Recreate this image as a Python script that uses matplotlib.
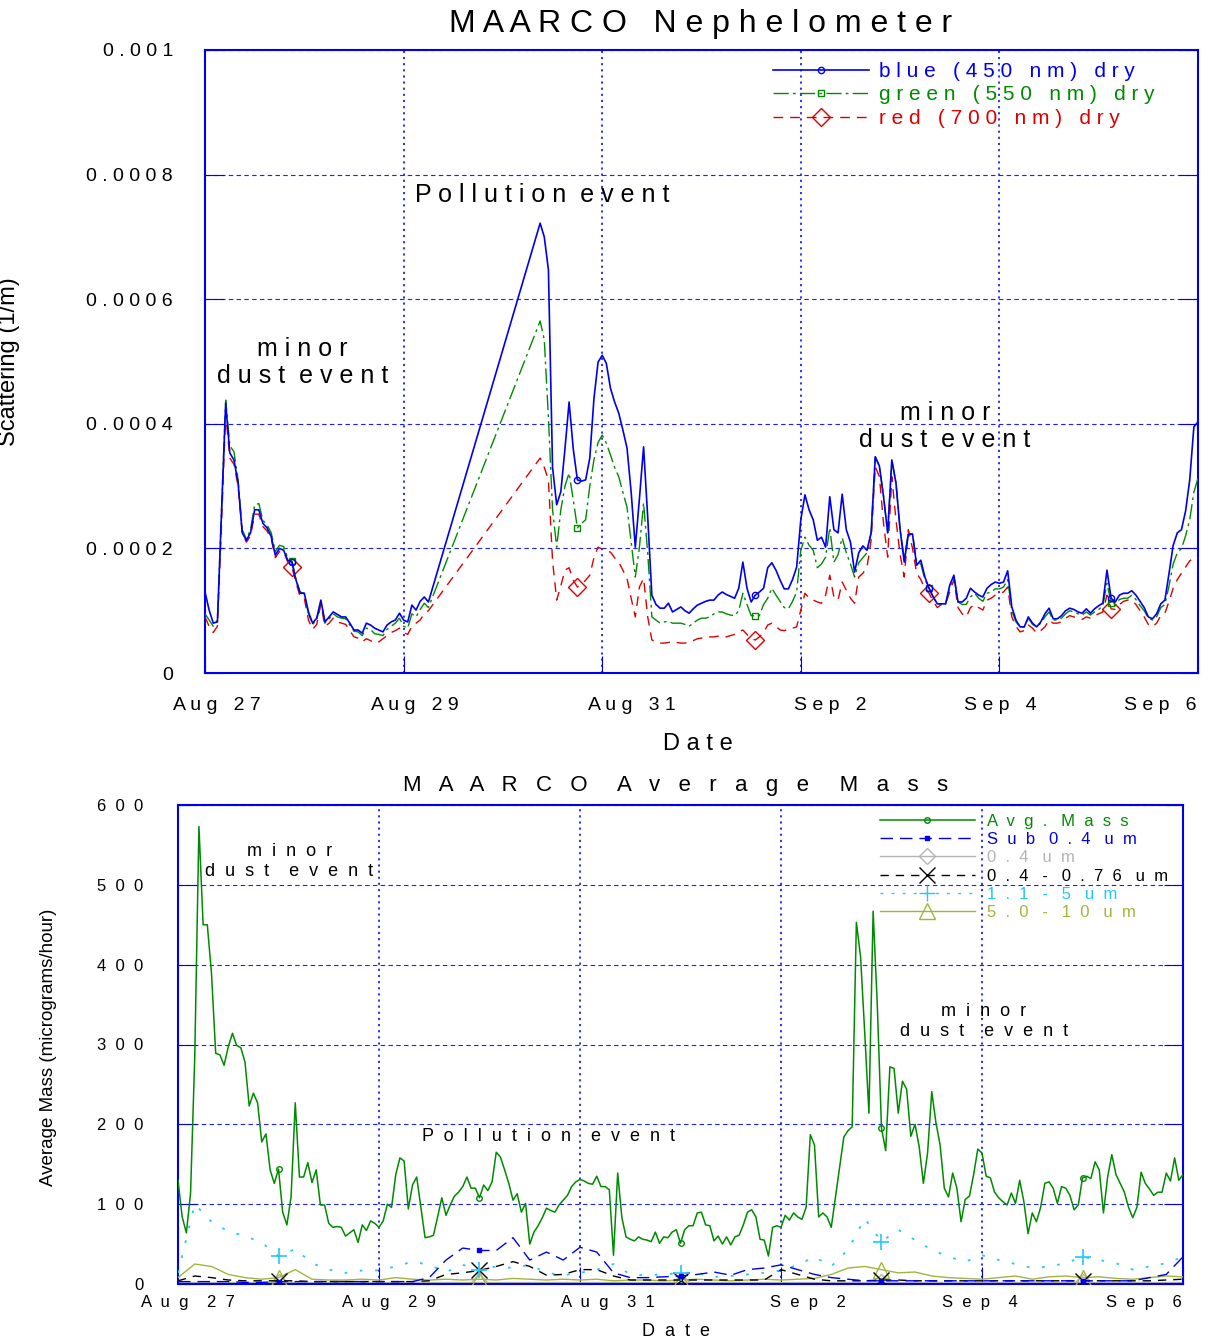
import numpy as np
import matplotlib
matplotlib.use('Agg')
import matplotlib.pyplot as plt
from matplotlib.lines import Line2D
from matplotlib.transforms import ScaledTranslation

plt.rcParams['font.family'] = ['Liberation Sans', 'DejaVu Sans']

# ---------------- nephelometer (hourly, hours since Aug 27 00:00) ----------------
neph_hours = list(range(0, 55)) + list(range(81, 241))

# scattering in units of 1e-4 1/m
blue_450 = [
    1.30, 1.01, 0.80, 0.82, 2.60, 4.33, 3.53, 3.42, 3.05, 2.25,
    2.13, 2.25, 2.62, 2.62, 2.40, 2.33, 2.19, 1.89, 2.00, 1.97,
    1.81, 1.78, 1.49, 1.28, 1.28, 0.98, 0.80, 0.88, 1.17, 0.82,
    0.90, 0.98, 0.94, 0.90, 0.90, 0.80, 0.69, 0.69, 0.64, 0.80,
    0.77, 0.72, 0.69, 0.66, 0.77, 0.82, 0.85, 0.96, 0.85, 0.82,
    1.09, 1.01, 1.15, 1.22, 1.14,
    7.22, 7.00, 6.47, 3.30, 2.70, 2.91, 3.60, 4.35, 3.60, 3.10,
    3.08, 3.10, 3.45, 4.40, 4.99, 5.10, 4.97, 4.57, 4.35, 4.17,
    3.90, 3.61, 2.90, 2.02, 2.80, 3.63, 2.50, 1.25, 1.10, 1.04,
    1.04, 1.12, 0.98, 1.02, 1.06, 1.00, 0.96, 1.03, 1.09, 1.12,
    1.15, 1.17, 1.17, 1.25, 1.30, 1.26, 1.23, 1.20, 1.36, 1.78,
    1.36, 1.14, 1.25, 1.30, 1.36, 1.69, 1.77, 1.65, 1.49, 1.35,
    1.35, 1.50, 1.70, 2.46, 2.86, 2.62, 2.46, 2.13, 2.18, 2.02,
    2.83, 2.30, 2.25, 2.87, 2.30, 2.10, 1.62, 1.93, 2.04, 1.97,
    2.25, 3.47, 3.32, 2.83, 2.25, 3.42, 3.05, 2.30, 1.78, 2.23,
    2.23, 1.73, 1.81, 1.54, 1.36, 1.22, 1.11, 1.11, 1.11, 1.41,
    1.57, 1.14, 1.14, 1.20, 1.36, 1.30, 1.25, 1.22, 1.36, 1.42,
    1.46, 1.44, 1.46, 1.64, 1.06, 0.85, 0.74, 0.74, 0.90, 0.80,
    0.74, 0.82, 0.95, 1.04, 0.87, 0.87, 0.92, 1.00, 1.04, 1.02,
    0.98, 0.96, 1.03, 0.96, 1.03, 1.08, 1.12, 1.65, 1.20, 1.14,
    1.25, 1.28, 1.28, 1.32, 1.25, 1.15, 1.05, 0.90, 0.87, 0.95,
    1.11, 1.17, 1.60, 2.05, 2.25, 2.30, 2.60, 3.10, 3.95, 4.03,
]
green_550 = [
    0.95, 0.85, 0.75, 0.85, 2.60, 4.38, 3.65, 3.55, 3.10, 2.30,
    2.15, 2.30, 2.70, 2.72, 2.45, 2.38, 2.25, 1.95, 2.05, 2.03,
    1.85, 1.80, 1.50, 1.30, 1.28, 0.95, 0.78, 0.85, 1.15, 0.80,
    0.87, 0.95, 0.90, 0.88, 0.87, 0.77, 0.67, 0.66, 0.60, 0.72,
    0.70, 0.63, 0.62, 0.60, 0.70, 0.75, 0.80, 0.88, 0.75, 0.72,
    0.95, 0.90, 1.02, 1.12, 1.05,
    5.65, 5.35, 4.10, 2.62, 2.02, 2.62, 3.00, 3.21, 2.78, 2.33,
    2.40, 2.46, 3.00, 3.42, 3.70, 3.82, 3.69, 3.50, 3.30, 3.15,
    2.90, 2.66, 2.10, 1.54, 2.02, 2.73, 1.93, 0.90, 0.85, 0.80,
    0.82, 0.83, 0.80, 0.80, 0.80, 0.78, 0.75, 0.80, 0.85, 0.88,
    0.88, 0.90, 0.95, 0.98, 0.98, 0.95, 0.93, 0.92, 1.00, 1.28,
    1.10, 0.92, 0.92, 0.92, 1.10, 1.20, 1.36, 1.25, 1.15, 1.05,
    1.03, 1.15, 1.30, 1.97, 2.18, 2.05, 1.97, 1.69, 1.75, 1.86,
    2.33, 1.78, 1.90, 2.17, 1.93, 1.75, 1.54, 1.77, 1.85, 1.93,
    2.25, 3.47, 3.32, 2.83, 2.25, 3.42, 3.05, 2.30, 1.85, 2.25,
    2.23, 1.78, 1.75, 1.50, 1.36, 1.22, 1.11, 1.11, 1.11, 1.38,
    1.55, 1.14, 1.10, 1.10, 1.22, 1.28, 1.20, 1.15, 1.28, 1.30,
    1.35, 1.35, 1.38, 1.50, 1.00, 0.82, 0.74, 0.74, 0.88, 0.78,
    0.74, 0.80, 0.90, 0.98, 0.85, 0.85, 0.88, 0.95, 1.00, 0.98,
    0.95, 0.93, 0.98, 0.93, 0.98, 1.02, 1.08, 1.44, 1.12, 1.08,
    1.18, 1.20, 1.20, 1.25, 1.18, 1.08, 1.00, 0.88, 0.85, 0.90,
    1.05, 1.10, 1.40, 1.75, 1.93, 2.00, 2.20, 2.46, 2.90, 3.13,
]
red_700 = [
    0.90, 0.75, 0.65, 0.75, 2.40, 4.17, 3.45, 3.35, 3.00, 2.25,
    2.10, 2.20, 2.55, 2.55, 2.35, 2.28, 2.15, 1.85, 1.95, 1.95,
    1.78, 1.70, 1.45, 1.22, 1.20, 0.85, 0.70, 0.78, 1.10, 0.75,
    0.80, 0.88, 0.82, 0.80, 0.78, 0.68, 0.58, 0.56, 0.50, 0.55,
    0.52, 0.48, 0.50, 0.55, 0.60, 0.65, 0.68, 0.72, 0.65, 0.62,
    0.75, 0.80, 0.85, 0.95, 1.00,
    3.45, 3.30, 3.10, 1.80, 1.17, 1.40, 1.65, 1.69, 1.49, 1.38,
    1.42, 1.49, 1.57, 1.85, 2.02, 1.99, 1.96, 1.94, 1.85, 1.78,
    1.65, 1.52, 1.20, 0.90, 1.38, 1.52, 0.90, 0.53, 0.50, 0.48,
    0.48, 0.49, 0.50, 0.49, 0.48, 0.48, 0.50, 0.52, 0.55, 0.56,
    0.57, 0.58, 0.58, 0.59, 0.60, 0.58, 0.60, 0.62, 0.66, 0.69,
    0.62, 0.55, 0.53, 0.58, 0.65, 0.77, 0.80, 0.75, 0.69, 0.68,
    0.70, 0.72, 0.74, 1.01, 1.28, 1.20, 1.17, 1.14, 1.12, 1.25,
    1.57, 1.22, 1.17, 1.46, 1.33, 1.20, 1.12, 1.54, 1.60, 1.70,
    2.13, 3.31, 3.15, 2.40, 1.86, 3.15, 2.46, 1.90, 1.54, 2.30,
    2.00, 1.60, 1.50, 1.35, 1.28, 1.15, 1.05, 1.10, 1.11, 1.30,
    1.50, 1.05, 0.95, 0.90, 1.05, 1.10, 1.05, 1.01, 1.17, 1.20,
    1.25, 1.28, 1.30, 1.38, 0.90, 0.75, 0.66, 0.68, 0.77, 0.72,
    0.64, 0.68, 0.74, 0.85, 0.80, 0.80, 0.82, 0.88, 0.92, 0.90,
    0.88, 0.86, 0.90, 0.88, 0.92, 0.95, 0.98, 1.25, 1.03, 1.02,
    1.10, 1.15, 1.17, 1.17, 1.10, 1.00, 0.90, 0.78, 0.74, 0.80,
    0.92, 0.96, 1.15, 1.36, 1.50, 1.60, 1.70, 1.80, 1.85, 1.85,
]
neph_marker_hours = [21, 90, 133, 175, 219]

# ---------------- average mass ----------------
# hourly, hours 0..240
avg_mass = [
    130, 84, 64, 114, 284, 573, 450, 450, 389, 289,
    287, 274, 297, 314, 299, 296, 278, 223, 239, 227,
    178, 188, 143, 126, 144, 90, 74, 109, 227, 134,
    134, 152, 127, 143, 99, 99, 76, 71, 72, 71,
    60, 64, 68, 52, 74, 67, 79, 76, 71, 79,
    100, 96, 137, 158, 154, 94, 124, 134, 96, 58,
    59, 61, 84, 108, 86, 99, 110, 115, 122, 134,
    120, 120, 108, 124, 117, 128, 165, 159, 143, 126,
    105, 113, 90, 101, 50, 65, 73, 83, 95, 92,
    90, 99, 105, 111, 122, 128, 131, 129, 126, 125,
    135, 122, 122, 118, 36, 139, 83, 59, 56, 54,
    59, 56, 55, 53, 65, 51, 59, 58, 65, 68,
    51, 68, 73, 73, 89, 90, 74, 73, 54, 60,
    50, 59, 49, 59, 61, 74, 90, 93, 84, 56,
    55, 35, 71, 73, 71, 86, 80, 89, 84, 81,
    96, 187, 174, 84, 89, 84, 71, 109, 147, 184,
    192, 197, 453, 410, 314, 214, 467, 349, 195, 167,
    272, 270, 214, 254, 244, 185, 200, 172, 126, 164,
    241, 202, 174, 120, 109, 139, 120, 78, 106, 110,
    137, 169, 164, 135, 133, 115, 108, 103, 99, 114,
    101, 130, 103, 63, 89, 78, 96, 126, 128, 120,
    101, 122, 120, 111, 93, 99, 133, 135, 132, 153,
    143, 89, 134, 162, 137, 126, 115, 96, 83, 96,
    140, 126, 119, 111, 115, 115, 139, 129, 158, 130,
    137,
]
mass_hours = list(range(0, 241))

# size bins every 4 hours, hours 0..240
bin_hours = list(range(0, 241, 4))
sub_04 = [
    3, 3, 3, 3, 2, 2, 3, 3, 3, 3,
    3, 3, 3, 3, 3, 8, 30, 45, 42, 42,
    58, 30, 40, 30, 46, 40, 14, 8, 8, 9,
    10, 12, 15, 11, 18, 20, 24, 18, 12, 8,
    6, 4, 4, 4, 4, 4, 4, 4, 4, 4,
    4, 4, 4, 4, 4, 4, 4, 4, 8, 12,
    34,
]
d_04 = [
    2, 2, 2, 2, 2, 2, 2, 2, 2, 2,
    2, 2, 2, 2, 2, 2, 2, 2, 2, 2,
    2, 2, 2, 2, 2, 2, 2, 2, 2, 2,
    2, 2, 2, 2, 2, 2, 2, 2, 2, 2,
    2, 2, 2, 2, 2, 2, 2, 2, 2, 2,
    2, 2, 2, 2, 2, 2, 2, 2, 2, 2,
    2,
]
d_04_076 = [
    4, 10, 8, 5, 4, 4, 4, 4, 3, 3,
    3, 3, 3, 3, 3, 4, 12, 14, 17, 22,
    28, 22, 11, 12, 18, 18, 10, 5, 5, 5,
    5, 5, 5, 5, 5, 5, 18, 12, 6, 4,
    4, 4, 5, 5, 4, 4, 4, 4, 4, 4,
    4, 4, 4, 4, 4, 4, 4, 4, 4, 5,
    6,
]
d_11_5 = [
    14, 100, 78, 66, 60, 52, 35, 44, 26, 18,
    14, 17, 17, 22, 28, 24, 15, 24, 18, 22,
    20, 24, 14, 11, 14, 18, 25, 12, 11, 12,
    14, 14, 9, 10, 12, 14, 17, 24, 34, 22,
    43, 82, 53, 68, 55, 43, 34, 28, 36, 30,
    25, 20, 22, 26, 34, 30, 26, 18, 22, 26,
    34,
]
d_5_10 = [
    8, 25, 22, 12, 8, 6, 8, 18, 6, 5,
    5, 6, 5, 8, 6, 5, 6, 5, 6, 5,
    7, 6, 5, 6, 5, 6, 4, 5, 5, 4,
    5, 6, 5, 4, 5, 6, 5, 6, 7, 12,
    20, 22, 18, 14, 15, 10, 8, 7, 6, 8,
    10, 6, 9, 10, 8, 9, 7, 6, 8, 10,
    9,
]
mass_marker_hours = [24, 72, 120, 168, 216]

date_ticks = [0, 2, 4, 6, 8, 10]
date_labels = ['Aug 27', 'Aug 29', 'Aug 31', 'Sep 2', 'Sep 4', 'Sep 6']

BLUE = '#0000ee'
GREEN = '#008a00'
RED = '#dd0000'
CYAN = '#22c8f8'
OLIVE = '#a4b43a'
GRAY = '#b4b4b4'
GRID = '#2020ff'


def spread(s, k=1, w=None):
    # letter-spaced text: k spaces between letters, w spaces between words
    if w is None:
        w = 2 * k
    return (' ' * w).join((' ' * k).join(word) for word in s.split(' '))


def marker_idx(hours, wanted):
    return [hours.index(h) for h in wanted]


def style_axes(ax, fsz, k, w, pad_y, pad_x, shifts):
    for sp in ax.spines.values():
        sp.set_color(BLUE)
        sp.set_linewidth(1.5)
    ax.set_xlim(0, 10)
    ax.set_xticks(date_ticks)
    ax.set_xticklabels([spread(s, k, w) for s in date_labels], fontsize=fsz)
    ax.tick_params(axis='x', direction='in', length=12, color=BLUE,
                   pad=pad_x, top=False)
    ax.tick_params(axis='y', direction='in', length=14, color=BLUE,
                   pad=pad_y, right=True, labelsize=fsz)
    ax.grid(axis='y', color=GRID, linestyle=(0, (4, 3)), linewidth=0.8)
    ax.grid(axis='x', color=GRID, linestyle=(0, (1.2, 2.2)), linewidth=1.3)
    ax.set_axisbelow(True)
    fig = ax.figure
    for lab, dx in zip(ax.get_xticklabels(), shifts):
        lab.set_transform(lab.get_transform()
                          + ScaledTranslation(dx / 100, 0, fig.dpi_scale_trans))


fig = plt.figure(figsize=(12.12, 13.43), dpi=100)
W, H = 1212, 1343

# ======================= top: nephelometer =======================
ax1 = fig.add_axes([205 / W, 1 - 673 / H, 993 / W, 623 / H])
t_neph = np.array(neph_hours) / 24.0
mk = marker_idx(neph_hours, neph_marker_hours)

ax1.plot(t_neph, np.array(red_700) * 1e-4, color=RED, lw=1.0,
         ls=(0, (7, 5)), marker='D', markevery=mk, ms=9, mfc='none',
         mec=RED, mew=1.0, zorder=3)
ax1.plot(t_neph, np.array(green_550) * 1e-4, color=GREEN, lw=1.0,
         ls=(0, (11, 3, 2, 3)), marker='s', markevery=mk, ms=5, mfc='none',
         mec=GREEN, mew=1.0, zorder=4)
ax1.plot(t_neph, np.array(blue_450) * 1e-4, color=BLUE, lw=1.2,
         marker='o', markevery=mk, ms=4.5, mfc='none', mec=BLUE, mew=1.0,
         zorder=5)

ax1.set_ylim(0, 0.001)
yt = [0, 0.0002, 0.0004, 0.0006, 0.0008, 0.001]
ax1.set_yticks(yt)
ax1.set_yticklabels([spread(s) for s in ['0', '0.0002', '0.0004', '0.0006',
                                           '0.0008', '0.001']])
style_axes(ax1, 14, 1, 3, 23, 17, [12, 11, 30, 29, 1, -38])
ax1.set_ylabel('Scattering (1/m)', fontsize=17)
ax1.yaxis.set_label_coords(-0.186, 0.5)

h_top = [
    Line2D([], [], color=BLUE, lw=1.2, marker='o', ms=4.5, mfc='none'),
    Line2D([], [], color=GREEN, lw=1.0, ls=(0, (11, 3, 2, 3)), marker='s',
           ms=5, mfc='none'),
    Line2D([], [], color=RED, lw=1.0, ls=(0, (7, 5)), marker='D', ms=9,
           mfc='none'),
]
leg1 = ax1.legend(h_top, [spread('blue (450 nm) dry', 1, 3),
                          spread('green (550 nm) dry', 1, 3),
                          spread('red (700 nm) dry', 1, 3)],
                  loc='upper left', bbox_to_anchor=(0.572, 0.981),
                  frameon=False, fontsize=15, handlelength=4.6,
                  handletextpad=0.5, labelspacing=0.22, borderaxespad=0,
                  borderpad=0)
for txt, c in zip(leg1.get_texts(), [BLUE, GREEN, RED]):
    txt.set_color(c)

ax1.text(0.98, 0.000498, spread('minor') + '\n' + spread('dust event'),
         ha='center', va='center', fontsize=18, linespacing=1.15)
ax1.text(3.40, 0.000767, spread('Pollution event'), ha='center',
         va='center', fontsize=18)
ax1.text(7.45, 0.000396, spread('minor') + '\n' + spread('dust event'),
         ha='center', va='center', fontsize=18, linespacing=1.15)

fig.text(701 / W, 1 - 24 / H, spread('MAARCO Nephelometer', 1, 3),
         ha='center', va='center', fontsize=23)
fig.text(698 / W, 1 - 744 / H, spread('Date'), ha='center', va='center',
         fontsize=17)

# ======================= bottom: average mass =======================
ax2 = fig.add_axes([178 / W, 1 - 1284 / H, 1005 / W, 479 / H])
t_mass = np.array(mass_hours) / 24.0
t_bin = np.array(bin_hours) / 24.0
mk_m = marker_idx(mass_hours, mass_marker_hours)
mk_b = marker_idx(bin_hours, mass_marker_hours)

ax2.plot(t_bin, d_04, color=GRAY, lw=1.0, marker='D', markevery=mk_b,
         ms=8, mfc='none', mec=GRAY, zorder=2)
ax2.plot(t_bin, d_5_10, color=OLIVE, lw=1.0, marker='^', markevery=mk_b,
         ms=11, mfc='none', mec=OLIVE, zorder=3)
ax2.plot(t_bin, d_04_076, color='black', lw=1.0, ls=(0, (6, 5)),
         marker='x', markevery=mk_b, ms=11, mec='black', zorder=3)
ax2.plot(t_bin, d_11_5, color=CYAN, lw=1.3, ls=(0, (1.5, 7)),
         marker='+', markevery=mk_b, ms=12, mec=CYAN, mew=1.2, zorder=3)
ax2.plot(t_bin, sub_04, color=BLUE, lw=1.0, ls=(0, (9, 5)), marker='s',
         markevery=mk_b, ms=3.5, mfc=BLUE, mec=BLUE, zorder=4)
ax2.plot(t_mass, avg_mass, color=GREEN, lw=1.1, marker='o', markevery=mk_m,
         ms=4, mfc='none', mec=GREEN, zorder=5)

ax2.set_ylim(0, 600)
ax2.set_yticks(range(0, 601, 100))
ax2.set_yticklabels([spread(str(v), 2) for v in range(0, 601, 100)])
style_axes(ax2, 12, 2, 4, 25, 8, [10, 10, 28, 27, -2, -39])
ax2.set_ylabel('Average Mass (micrograms/hour)', fontsize=13.5)
ax2.yaxis.set_label_coords(-0.120, 0.495)

h_bot = [
    Line2D([], [], color=GREEN, lw=1.1, marker='o', ms=4, mfc='none'),
    Line2D([], [], color=BLUE, lw=1.0, ls=(0, (9, 5)), marker='s', ms=3.5),
    Line2D([], [], color=GRAY, lw=1.0, marker='D', ms=8, mfc='none'),
    Line2D([], [], color='black', lw=1.0, ls=(0, (6, 5)), marker='x', ms=11),
    Line2D([], [], color=CYAN, lw=1.0, ls=(0, (2, 6)), marker='+', ms=12),
    Line2D([], [], color=OLIVE, lw=1.0, marker='^', ms=11, mfc='none'),
]
bot_labels = ['Avg. Mass', 'Sub 0.4 um', '0.4 um', '0.4 - 0.76 um',
              '1.1 - 5 um', '5.0 - 10 um']
leg2 = ax2.legend(h_bot, [spread(s, 2, 3) for s in bot_labels],
                  loc='upper left', bbox_to_anchor=(0.6985, 0.982),
                  frameon=False, fontsize=12, handlelength=5.7,
                  handletextpad=0.7, labelspacing=0.2, borderaxespad=0,
                  borderpad=0)
for txt, c in zip(leg2.get_texts(), [GREEN, BLUE, GRAY, 'black', CYAN, OLIVE]):
    txt.set_color(c)

ax2.text(1.11, 529, spread('minor', 2) + '\n' + spread('dust event', 2),
         ha='center', va='center', fontsize=13, linespacing=1.2)
ax2.text(3.69, 185, spread('Pollution event', 2), ha='center', va='center',
         fontsize=13)
ax2.text(8.02, 329, spread('minor', 2) + '\n' + spread('dust event', 2),
         ha='center', va='center', fontsize=13, linespacing=1.2)

fig.text(676 / W, 1 - 786 / H, spread('MAARCO Average Mass', 3, 5),
         ha='center', va='center', fontsize=16)
fig.text(676 / W, 1 - 1332 / H, spread('Date', 2), ha='center', va='center',
         fontsize=13)

fig.savefig('out.png', dpi=100)
